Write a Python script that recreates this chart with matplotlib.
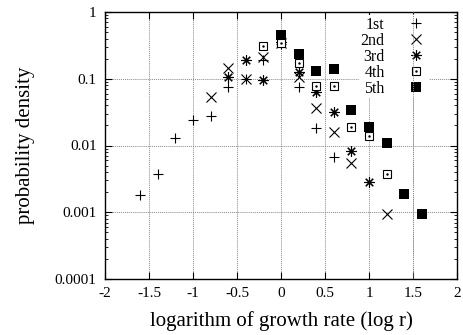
import numpy as np
import matplotlib
matplotlib.use('Agg')
import matplotlib.pyplot as plt
from matplotlib.ticker import FixedLocator, FuncFormatter, LogLocator, NullFormatter

# ── Data (log r, probability density) ─────────────────────────
x1 = [-1.6, -1.4, -1.2, -1.0, -0.8, -0.6, -0.4, -0.2, 0.0, 0.2, 0.4, 0.6]
y1 = [0.0018, 0.0037, 0.013, 0.024, 0.028, 0.075, 0.10, 0.19, 0.33, 0.075, 0.018, 0.0067]

x2 = [-0.8, -0.6, -0.4, -0.2, 0.0, 0.2, 0.4, 0.6, 0.8, 1.2]
y2 = [0.053, 0.145, 0.10, 0.21, 0.34, 0.105, 0.036, 0.016, 0.0055, 0.00095]

x3 = [-0.6, -0.4, -0.2, 0.0, 0.2, 0.4, 0.6, 0.8, 1.0]
y3 = [0.105, 0.19, 0.095, 0.35, 0.125, 0.064, 0.032, 0.0083, 0.0028]

x4 = [-0.2, 0.0, 0.2, 0.4, 0.6, 0.8, 1.0, 1.2]
y4 = [0.31, 0.34, 0.17, 0.078, 0.078, 0.019, 0.014, 0.0038]

x5 = [0.0, 0.2, 0.4, 0.6, 0.8, 1.0, 1.2, 1.4, 1.6]
y5 = [0.45, 0.235, 0.13, 0.14, 0.034, 0.019, 0.011, 0.0019, 0.00095]

labels = ['1st', '2nd', '3rd', '4th', '5th']
xticks = [-2, -1.5, -1, -0.5, 0, 0.5, 1, 1.5, 2]
yticks = [0.0001, 0.001, 0.01, 0.1, 1]

plt.rcParams['font.family'] = ['Liberation Serif', 'DejaVu Serif']

# ── Plot ──────────────────────────────────────────────────────
fig = plt.figure(figsize=(4.63, 3.35), dpi=100)
ax = fig.add_axes([105/463, 1 - 279/335, 352/463, 267/335])

star = (8, 2, 0)
ax.plot(x1, y1, ls='none', marker='+', ms=7.5, mew=0.8, color='black', label=labels[0])
ax.plot(x2, y2, ls='none', marker='x', ms=6.5, mew=0.8, color='black', label=labels[1])
ax.plot(x3, y3, ls='none', marker=star, ms=7.5, mew=0.8, color='black', label=labels[2])
sq, = ax.plot(x4, y4, ls='none', marker='s', ms=6, mew=0.8, mfc='white', mec='black',
              color='black')
dot, = ax.plot(x4, y4, ls='none', marker='.', ms=1.5, color='black')
ax.plot(x5, y5, ls='none', marker='s', ms=6.5, mew=0, color='black', label=labels[4])

ax.set_yscale('log')
ax.set_xlim(-2, 2); ax.set_ylim(0.0001, 1)
ax.xaxis.set_major_locator(FixedLocator(xticks))
ax.xaxis.set_major_formatter(FuncFormatter(lambda v, _: f'{v:g}'))
ax.yaxis.set_major_locator(FixedLocator(yticks))
ax.yaxis.set_major_formatter(FuncFormatter(lambda v, _: f'{v:g}'))
ax.yaxis.set_minor_locator(LogLocator(base=10, subs=np.arange(2, 10)))
ax.yaxis.set_minor_formatter(NullFormatter())
ax.tick_params(which='both', direction='in', top=True, right=True, labelsize=11, pad=6)
ax.tick_params(which='major', length=5, width=0.8)
ax.tick_params(which='minor', length=2.5, width=0.6)
ax.grid(True, which='major', ls=(0, (1, 1)), lw=0.7, color='#888888')
for s in ax.spines.values():
    s.set_linewidth(1.0)

ax.set_xlabel('logarithm of growth rate (log r)', fontsize=15, labelpad=8)
ax.set_ylabel('probability density', fontsize=15, labelpad=14)

h, l = ax.get_legend_handles_labels()
h = h[:3] + [(sq, dot)] + h[3:]
l = l[:3] + [labels[3]] + l[3:]
leg = ax.legend(h, l, loc='upper right', bbox_to_anchor=(0.943, 1.02), markerfirst=False,
                frameon=True, fancybox=False, framealpha=1, edgecolor='none',
                fontsize=11.5, handlelength=1.4, handletextpad=1.25, labelspacing=0.0,
                borderpad=0.12)
# grid line at 1.5 runs through the key in the reference
ax.axvline(1.5, ls=(0, (1, 1)), lw=0.7, color='#888888', zorder=6)

plt.savefig('out.png', dpi=100)
